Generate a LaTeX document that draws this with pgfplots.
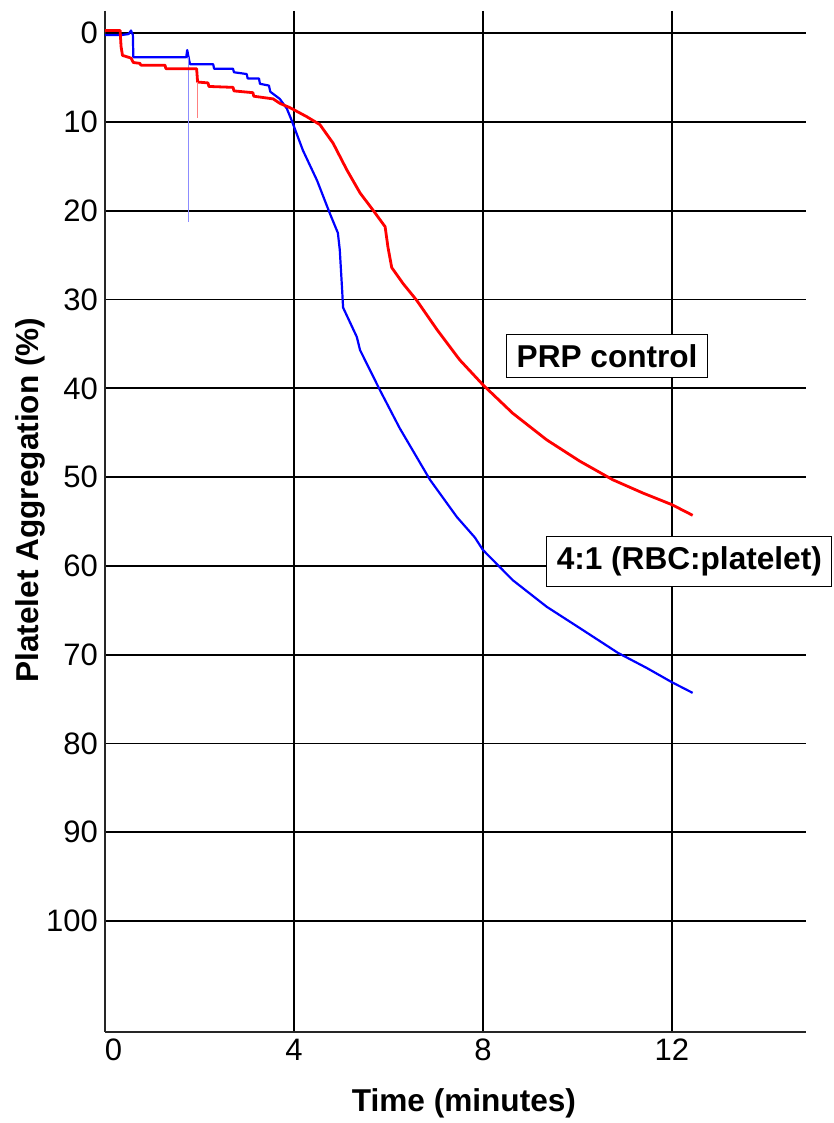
\documentclass[border=0pt]{standalone}
\usepackage{fontspec}
\setmainfont{Liberation Sans}
\usepackage{pgfplots}
\pgfplotsset{compat=1.18}
\begin{document}
\begin{tikzpicture}
\useasboundingbox (-52.5pt,-45.5pt) rectangle (364.5pt,516pt);
\begin{axis}[
  scale only axis, width=350.5pt, height=510.5pt,
  at={(0,0)}, anchor=south west,
  xmin=0, xmax=14.84, ymin=-2.5, ymax=112.5, y dir=reverse,
  axis x line*=bottom, axis y line*=left,
  axis line style={line width=1.1pt, black!85},
  xtick={0,4,8,12}, xticklabels={\makebox[0pt][l]{0},4,8,12},
  ytick={0,10,...,100},
  major tick length=0pt,
  grid=major, major grid style={line width=0.9pt, black},
  tick label style={font=\fontsize{15.5}{18}\selectfont},
  /pgf/number format/assume math mode=true,
  xlabel={Time (minutes)}, ylabel={Platelet Aggregation (\%)},
  label style={font=\fontsize{15.8}{19}\selectfont\bfseries},
  xlabel style={at={(axis description cs:0.512,-0.0774)}, anchor=base},
  ylabel style={at={(axis description cs:-0.0949,0.521)}, anchor=base},
  clip=false,
]
% 4:1 (RBC:platelet)
\addplot[blue, line width=1.1pt, line join=round] coordinates {
  (0,0.2) (0.36,0.2) (0.5,0.1) (0.55,-0.3) (0.59,0.2) (0.6,2.7) (1.72,2.7)
  (1.74,1.9) (1.80,3.5) (2.29,3.5) (2.31,4.0) (2.71,4.0) (2.73,4.4) (3.0,4.6)
  (3.02,5.1) (3.26,5.1) (3.28,5.7) (3.47,5.9) (3.5,6.6) (3.70,7.4) (3.85,8.5)
  (3.95,9.8) (4.19,13.2) (4.49,16.6) (4.76,20.3) (4.93,22.5) (4.97,24.4)
  (5.02,28.9) (5.04,30.9) (5.33,34.2) (5.40,35.7) (5.82,40.2) (6.24,44.5)
  (6.88,50.3) (7.45,54.5) (7.83,56.8) (8.0,58.2) (8.63,61.6) (9.35,64.6)
  (10.05,67.0) (10.86,69.8) (11.47,71.5) (12.0,73.1) (12.44,74.3)
};
\addplot[blue!45, line width=0.5pt] coordinates {(1.77,2.7) (1.77,21.3)};
% PRP control
\addplot[red, line width=1.4pt, line join=round] coordinates {
  (0,-0.3) (0.32,-0.3) (0.34,1.5) (0.37,2.5) (0.55,2.8) (0.6,3.3) (0.74,3.4)
  (0.76,3.6) (1.27,3.6) (1.29,4.0) (1.94,4.0) (1.96,5.5) (2.18,5.6) (2.2,6.0)
  (2.71,6.1) (2.73,6.5) (3.13,6.7) (3.15,7.1) (3.56,7.4) (3.7,7.9) (3.92,8.4)
  (4.27,9.4) (4.55,10.3) (4.83,12.4) (5.12,15.4) (5.40,18.0) (5.67,19.9)
  (5.93,21.8) (5.99,24.1) (6.07,26.4) (6.31,28.2) (6.60,30.1) (7.03,33.4)
  (7.51,36.8) (8.0,39.6) (8.63,42.8) (9.35,45.8) (10.05,48.2) (10.75,50.3)
  (11.39,51.8) (12.0,53.1) (12.44,54.3)
};
\addplot[red!50, line width=0.5pt] coordinates {(1.95,5.5) (1.95,9.6)};
\node[draw=black, line width=0.5pt, fill=white, inner sep=5pt,
      font=\fontsize{15.8}{19}\selectfont\bfseries] at (axis cs:10.63,36.4) {PRP control};
\node[draw=black, line width=0.5pt, fill=white, inner sep=5pt,
      font=\fontsize{15.8}{19}\selectfont\bfseries] at (axis cs:12.37,59.5) {4:1 (RBC:platelet)};
\end{axis}
\end{tikzpicture}
\end{document}
